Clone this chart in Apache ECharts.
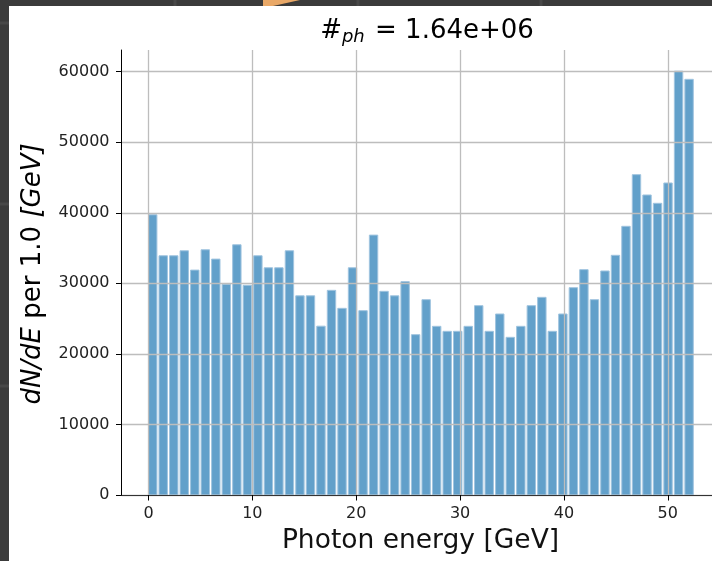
<!DOCTYPE html>
<html><head><meta charset="utf-8">
<script src="https://cdn.jsdelivr.net/npm/echarts@6/dist/echarts.min.js"></script>
<style>html,body{margin:0;padding:0;background:#3b3b3b}#c{width:712px;height:561px}</style>
</head><body><div id="c"></div>
<script>
// bin start energies [GeV]
const binStarts = [0, 1.013, 2.025, 3.038, 4.051, 5.064, 6.076, 7.089, 8.102, 9.114,
  10.127, 11.140, 12.152, 13.165, 14.178, 15.191, 16.203, 17.216, 18.229, 19.241,
  20.254, 21.267, 22.279, 23.292, 24.305, 25.318, 26.330, 27.343, 28.356, 29.368,
  30.381, 31.394, 32.406, 33.419, 34.432, 35.445, 36.457, 37.470, 38.483, 39.495,
  40.508, 41.521, 42.533, 43.546, 44.559, 45.572, 46.584, 47.597, 48.610, 49.622,
  50.635, 51.648];
// dN/dE values
const counts = [39717, 33907, 33907, 34615, 31875, 34757, 33434, 29858, 35465, 29717,
  33907, 32206, 32206, 34615, 28229, 28229, 23930, 29008, 26457, 32206,
  26126, 36835, 28866, 28229, 30240, 22726, 27685, 23906, 23198, 23198,
  23906, 26835, 23198, 25654, 22348, 23906, 26835, 28016, 23198, 25654,
  29386, 31942, 27685, 31750, 33972, 38082, 45404, 42522, 41341, 44223,
  60070, 58914];
const xTicks = [0, 10, 20, 30, 40, 50];
const yTicks = [0, 10000, 20000, 30000, 40000, 50000, 60000];
const binWidth = 1.0127;
const barFrac = 0.8;
const xRange = [-2.6, 54.26];
const yRange = [0, 63070];

const data = binStarts.map((b, i) => [b, counts[i]]);
const chart = echarts.init(document.getElementById('c'), null, {renderer: 'canvas'});
const F = 'DejaVu Sans';
const gridLine = {show: true, lineStyle: {color: '#bdbdbd', width: 1.3}};

const option = {
  backgroundColor: '#3b3b3b',
  animation: false,
  grid: {left: 121.5, top: 50, right: 0, height: 445},
  xAxis: [{
    type: 'value', min: xRange[0], max: xRange[1],
    axisLine: {show: true, onZero: false, lineStyle: {color: '#000', width: 1}},
    axisTick: {show: true, length: 5.5, customValues: xTicks, lineStyle: {color: '#000', width: 1}},
    axisLabel: {show: true, customValues: xTicks, margin: 11, fontFamily: F, fontSize: 16, color: '#222',
      formatter: function (v) { return String(v); }},
    splitLine: gridLine
  }, {
    type: 'value', position: 'top', min: xRange[0], max: xRange[1],
    axisLine: {show: true, lineStyle: {color: '#333', width: 1.2}},
    axisTick: {show: false}, axisLabel: {show: false}, splitLine: {show: false}
  }],
  yAxis: {
    type: 'value', min: yRange[0], max: yRange[1],
    axisLine: {show: true, onZero: false, lineStyle: {color: '#000', width: 1}},
    axisTick: {show: true, length: 5.5, customValues: yTicks, lineStyle: {color: '#000', width: 1}},
    axisLabel: {show: true, customValues: yTicks, margin: 12, fontFamily: F, fontSize: 16, color: '#222',
      formatter: function (v) { return String(v); }},
    splitLine: gridLine
  },
  series: [{
    type: 'custom', xAxisIndex: 0, yAxisIndex: 0, z: -1,
    data: data,
    encode: {x: 0, y: 1},
    renderItem: function (params, api) {
      const x0 = api.value(0), v = api.value(1);
      const p0 = api.coord([x0, v]);
      const p1 = api.coord([x0 + binWidth * barFrac, 0]);
      return {type: 'rect', shape: {x: p0[0], y: p0[1], width: p1[0] - p0[0], height: p1[1] - p0[1]},
        style: {fill: '#62a0ca', stroke: '#a0c4df', lineWidth: 1}};
    }
  }],
  graphic: [
    {type: 'rect', z: -100, shape: {x: 9, y: 6, width: 712, height: 561}, style: {fill: '#ffffff'}},
    {type: 'line', z: -100, shape: {x1: 175, y1: 0, x2: 175, y2: 6}, style: {stroke: '#484848', lineWidth: 3}},
    {type: 'line', z: -100, shape: {x1: 358, y1: 0, x2: 358, y2: 6}, style: {stroke: '#484848', lineWidth: 3}},
    {type: 'line', z: -100, shape: {x1: 541, y1: 0, x2: 541, y2: 6}, style: {stroke: '#484848', lineWidth: 3}},
    {type: 'line', z: -100, shape: {x1: 0, y1: 23, x2: 9, y2: 23}, style: {stroke: '#484848', lineWidth: 3}},
    {type: 'line', z: -100, shape: {x1: 0, y1: 204, x2: 9, y2: 204}, style: {stroke: '#484848', lineWidth: 3}},
    {type: 'line', z: -100, shape: {x1: 0, y1: 386, x2: 9, y2: 386}, style: {stroke: '#484848', lineWidth: 3}},
    {type: 'polygon', z: -100, shape: {points: [[263, 0], [300, 0], [273, 6], [263, 6]]}, style: {fill: '#e9a867'}},
    {type: 'text', z: 10, x: 427, y: 31, style: {
      text: '{n|#}{s|ph}{n| = 1.64e+06}', align: 'center', verticalAlign: 'middle',
      rich: {n: {fontFamily: F, fontSize: 26, color: '#111'},
             s: {fontFamily: F, fontSize: 18, fontStyle: 'italic', color: '#111', padding: [12, 2, 0, 0]}}
    }},
    {type: 'text', z: 10, x: 420.5, y: 541, style: {
      text: 'Photon energy [GeV]', align: 'center', verticalAlign: 'middle',
      fontFamily: F, fontSize: 26.5, fill: '#111'
    }},
    {type: 'text', z: 10, x: 33, y: 274, rotation: Math.PI / 2, style: {
      text: '{i|dN/dE}{n| per 1.0 }{i|[GeV]}', align: 'center', verticalAlign: 'middle',
      rich: {i: {fontFamily: F, fontSize: 26, fontStyle: 'italic', color: '#111'},
             n: {fontFamily: F, fontSize: 26, color: '#111'}}
    }}
  ]
};
chart.setOption(option);
</script></body></html>
